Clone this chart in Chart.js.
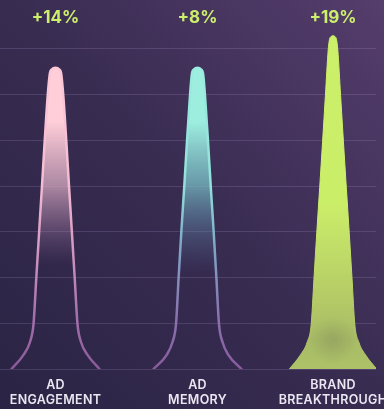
<!DOCTYPE html>
<html>
<head>
<meta charset="utf-8">
<script src="https://cdn.jsdelivr.net/npm/chart.js@4.4.1/dist/chart.umd.min.js"></script>
<style>
    html, body { margin: 0; padding: 0; }
    body {
        width: 384px;
        height: 409px;
        overflow: hidden;
        background: linear-gradient(to top right, #2a2444 0%, #382c51 50%, #553d6c 100%);
    }
    #wrap { position: relative; width: 384px; height: 409px; }
</style>
</head>
<body>
<div id="wrap"><canvas id="chartUplift"></canvas></div>
<script>
// Categories and uplift labels
const categories = [['AD', 'ENGAGEMENT'], ['AD', 'MEMORY'], ['BRAND', 'BREAKTHROUGH']];
const upliftLabels = ['+14%', '+8%', '+19%'];
const categoryX = [55.5, 197.5, 333];

// Spike profiles: level (grid units) -> half width (x units)
const levelsAdEngagement = [0, 0.31, 0.59, 0.98, 1.99, 2.99, 3.97, 4.98, 5.98, 6.47, 6.55, 6.59];
const halfWidthAdEngagement = [44, 32, 25.5, 22, 19.2, 16.4, 13.6, 10.8, 7.8, 5.6, 3.8, 0];

const levelsAdMemory = [0, 0.31, 0.59, 0.98, 1.99, 2.99, 3.97, 4.98, 5.98, 6.47, 6.55, 6.59];
const halfWidthAdMemory = [44, 30.8, 25, 21.5, 18.9, 16.2, 13.3, 10.5, 7.5, 5.5, 3.7, 0];

const levelsBrand = [0, 0.31, 0.59, 0.98, 1.99, 2.99, 3.97, 4.98, 5.98, 6.98, 7.21, 7.26, 7.29];
const halfWidthBrand = [43.7, 32.5, 25.8, 21.8, 19.0, 16.2, 13.3, 10.4, 7.6, 4.8, 3.5, 2.4, 0];

// darker smudge near the base of the brand spike
const brandShadowLevel = 0.63;

const yTop = 8.07;
const labelLevel = 7.68;

const colors = {
    lime: '#cdf06c',
    text: '#ebe7f2',
    grid: 'rgba(205, 175, 235, 0.17)'
};

function buildSpike(center, levels, halfWidths) {
    const pts = [];
    for (let i = 0; i < levels.length; i++) {
        pts.push({ x: center - halfWidths[i], y: levels[i] });
    }
    for (let i = levels.length - 2; i >= 0; i--) {
        pts.push({ x: center + halfWidths[i], y: levels[i] });
    }
    return pts;
}

function vGradient(chart, stops) {
    const area = chart.chartArea;
    if (!area) return null;
    const g = chart.ctx.createLinearGradient(0, area.top, 0, area.bottom);
    stops.forEach(s => g.addColorStop(s[0], s[1]));
    return g;
}

const shadowPlugin = {
    id: 'shadowPlugin',
    afterDatasetsDraw(chart) {
        const meta = chart.getDatasetMeta(2);
        if (!meta || !meta.dataset) return;
        const ctx = chart.ctx;
        const cx = chart.scales.x.getPixelForValue(categoryX[2]);
        const cy = chart.scales.y.getPixelForValue(brandShadowLevel);
        ctx.save();
        ctx.beginPath();
        meta.dataset.path(ctx);
        ctx.closePath();
        ctx.clip();
        const g = ctx.createRadialGradient(cx, cy, 0, cx, cy, 24);
        g.addColorStop(0, 'rgba(110, 120, 85, 0.3)');
        g.addColorStop(1, 'rgba(110, 120, 85, 0)');
        ctx.fillStyle = g;
        ctx.fillRect(cx - 30, cy - 30, 60, 60);
        ctx.restore();
    }
};

const labelsPlugin = {
    id: 'labelsPlugin',
    afterDraw(chart) {
        const ctx = chart.ctx;
        const xs = chart.scales.x;
        const ys = chart.scales.y;
        ctx.save();
        ctx.textAlign = 'center';
        ctx.textBaseline = 'middle';
        categories.forEach((lines, i) => {
            const x = xs.getPixelForValue(categoryX[i]);
            ctx.fillStyle = colors.lime;
            ctx.font = '700 17px Inter';
            ctx.fillText(upliftLabels[i], x, ys.getPixelForValue(labelLevel));
            ctx.fillStyle = colors.text;
            ctx.font = '600 12.5px Inter';
            ctx.letterSpacing = '0.3px';
            lines.forEach((t, j) => {
                ctx.fillText(t, x, chart.chartArea.bottom + 16 + j * 15);
            });
            ctx.letterSpacing = '0px';
        });
        ctx.restore();
    }
};

function criarGraficoUplift() {
    const canvas = document.getElementById('chartUplift');
    if (!canvas) return;

    try {
        new Chart(canvas, {
            type: 'line',
            data: {
                datasets: [{
                    data: buildSpike(categoryX[0], levelsAdEngagement, halfWidthAdEngagement),
                    borderWidth: 2.5,
                    borderColor: c => vGradient(c.chart, [[0, '#ffcfd9'], [0.5, '#f4bcd2'], [0.66, '#d59bc2'], [0.85, '#a572ae'], [1, '#8a5a98']]),
                    backgroundColor: c => vGradient(c.chart, [[0, 'rgba(255,206,216,1)'], [0.33, 'rgba(255,206,216,1)'], [0.5, 'rgba(228,180,202,0.7)'], [0.59, 'rgba(190,145,178,0.45)'], [0.72, 'rgba(140,100,150,0)'], [1, 'rgba(140,100,150,0)']]),
                    fill: 'origin'
                }, {
                    data: buildSpike(categoryX[1], levelsAdMemory, halfWidthAdMemory),
                    borderWidth: 2.5,
                    borderColor: c => vGradient(c.chart, [[0, '#9ff0e2'], [0.5, '#92e2da'], [0.66, '#7fa9c8'], [0.86, '#8a72ae'], [1, '#8a5c9e']]),
                    backgroundColor: c => vGradient(c.chart, [[0, 'rgba(158,238,224,1)'], [0.33, 'rgba(158,238,224,1)'], [0.5, 'rgba(125,200,205,0.7)'], [0.59, 'rgba(105,160,185,0.45)'], [0.74, 'rgba(90,110,160,0)'], [1, 'rgba(90,110,160,0)']]),
                    fill: 'origin'
                }, {
                    data: buildSpike(categoryX[2], levelsBrand, halfWidthBrand),
                    borderWidth: 1,
                    borderColor: c => vGradient(c.chart, [[0, '#cdf06a'], [0.55, '#cdf06a'], [0.8, '#b8d267'], [1, '#adc268']]),
                    backgroundColor: c => vGradient(c.chart, [[0, '#cdf06a'], [0.55, '#cbee69'], [0.8, '#b5cc66'], [0.92, '#a8bb66'], [1, '#adc268']]),
                    fill: 'origin'
                }]
            },
            options: {
                responsive: true,
                maintainAspectRatio: false,
                animation: false,
                layout: { padding: { top: 0, right: 8, bottom: 40, left: 0 } },
                elements: {
                    point: { radius: 0, hoverRadius: 0 },
                    line: { cubicInterpolationMode: 'monotone', borderJoinStyle: 'round', borderCapStyle: 'round' }
                },
                plugins: {
                    legend: { display: false },
                    tooltip: { enabled: false }
                },
                scales: {
                    x: { type: 'linear', min: 0, max: 376, display: false },
                    y: {
                        min: 0,
                        max: yTop,
                        border: { display: false },
                        grid: {
                            drawTicks: false,
                            lineWidth: 1,
                            color: c => (c.tick && c.tick.value > 7 ? 'rgba(0,0,0,0)' : colors.grid)
                        },
                        ticks: { display: false, stepSize: 1, includeBounds: false }
                    }
                }
            },
            plugins: [shadowPlugin, labelsPlugin]
        });
        console.log('chart ok');
    } catch (error) {
        console.error('chart error:', error);
    }
}

criarGraficoUplift();
</script>
</body>
</html>
